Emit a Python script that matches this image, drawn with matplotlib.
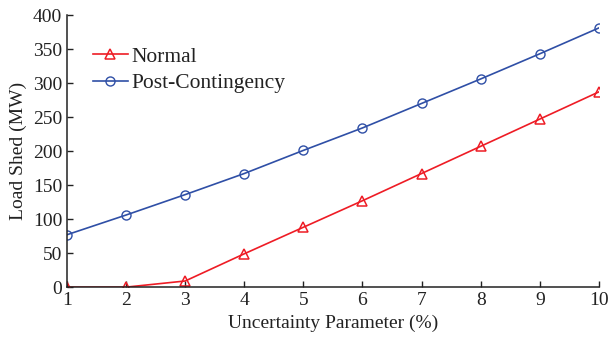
import matplotlib
matplotlib.use("Agg")
import matplotlib.pyplot as plt

# Load shed versus uncertainty parameter
uncertainty = [1, 2, 3, 4, 5, 6, 7, 8, 9, 10]
normal = [0, 0, 9, 49, 88, 127, 167, 207, 247, 287]
post_contingency = [77, 106, 136, 167, 201, 234, 270, 306, 343, 381]

x_ticks = [1, 2, 3, 4, 5, 6, 7, 8, 9, 10]
y_ticks = [0, 50, 100, 150, 200, 250, 300, 350, 400]

plt.rcParams["font.family"] = ["Liberation Serif", "DejaVu Serif"]

fig = plt.figure(figsize=(6.1, 3.41), dpi=100)
ax = fig.add_axes([0.1098, 0.158, 0.872, 0.798])

red = "#ee1c25"
blue = "#2f4fa6"

ax.plot(uncertainty, normal, color=red, lw=1.2, marker="^", ms=7,
        mfc="none", mec=red, mew=1.1, label="Normal")
ax.plot(uncertainty, post_contingency, color=blue, lw=1.2, marker="o", ms=6.5,
        mfc="none", mec=blue, mew=1.0, label="Post-Contingency")

ax.set_xlim(1, 10)
ax.set_ylim(0, 400)
ax.set_xticks(x_ticks)
ax.set_yticks(y_ticks)
ax.tick_params(direction="in", length=4, width=1, labelsize=14, colors="#222222")
for side in ("top", "right"):
    ax.spines[side].set_visible(False)
for side in ("left", "bottom"):
    ax.spines[side].set_color("#222222")
    ax.spines[side].set_linewidth(1.1)

ax.set_xlabel("Uncertainty Parameter (%)", fontsize=14, color="#222222", labelpad=4)
ax.set_ylabel("Load Shed (MW)", fontsize=14, color="#222222", labelpad=4)

leg = ax.legend(loc="upper left", bbox_to_anchor=(0.033, 0.915), frameon=False,
                fontsize=15.5, handlelength=1.6, handletextpad=0.2,
                labelspacing=0.3, borderaxespad=0)
for t in leg.get_texts():
    t.set_color("#222222")

fig.savefig("out.png", dpi=100)
